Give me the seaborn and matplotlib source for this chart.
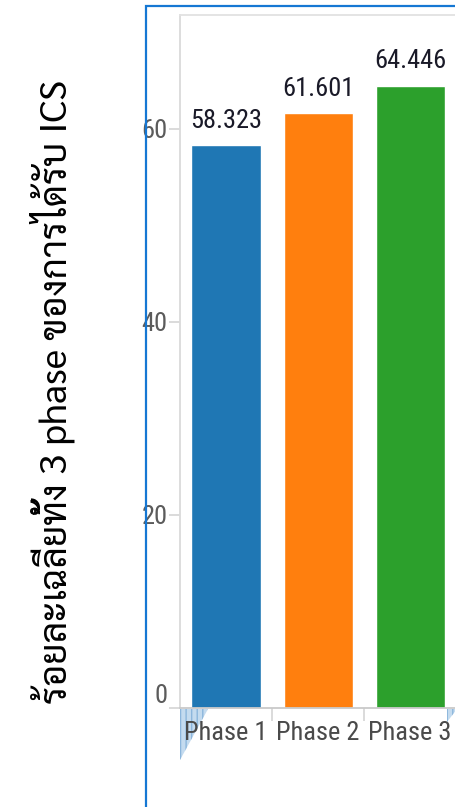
import matplotlib
matplotlib.use("Agg")
import matplotlib.pyplot as plt
from matplotlib import font_manager
from matplotlib.ft2font import FT2Font
from matplotlib.font_manager import FontProperties
from matplotlib.patches import Rectangle, Polygon
import seaborn as sns
import pandas as pd

# data
phases = ["Phase 1", "Phase 2", "Phase 3"]
ics_percent = [58.323, 61.601, 64.446]
bar_colors = ["#1f77b4", "#ff7f0e", "#2ca02c"]
y_ticks = [0, 20, 40, 60]
y_title = "ร้อยละเฉลี่ยทั้ง 3 phase ของการได้รับ ICS"


def find_thai():
    # prefer a Tahoma-like looped face, else anything with Thai glyphs
    names = {f.name for f in font_manager.fontManager.ttflist}
    for n in ["Sarabun", "Noto Sans Thai Looped", "Noto Sans Thai", "Anuphan", "Loma"]:
        if n in names:
            return n
    for f in font_manager.fontManager.ttflist:
        try:
            if FT2Font(f.fname).get_char_index(ord("ร")):
                return f.name
        except Exception:
            pass
    return "DejaVu Sans"


def find_narrow():
    # a condensed face for the ticks, if there is one
    fl = font_manager.fontManager.ttflist
    for key in ["LiberationSansNarrow-Regular", "RobotoCondensed-Regular",
                "DejaVuSansCondensed.", "OpenSans_Condensed-Regular",
                "Condensed-Regular", "Narrow-Regular", "Condensed", "Narrow"]:
        for f in fl:
            if key in f.fname and "Bold" not in f.fname and "Oblique" not in f.fname \
                    and "Italic" not in f.fname:
                return f.fname
    return None


narrow_path = find_narrow()
thai = find_thai()

sns.set_theme(style="white")
plt.rcParams["font.family"] = ["DejaVu Sans"]

if narrow_path:
    tick_fp = FontProperties(fname=narrow_path, size=19)
else:
    tick_fp = FontProperties(family="DejaVu Sans", size=15)

fig = plt.figure(figsize=(4.56, 8.07), dpi=100)
ax = fig.add_axes([180 / 456, 99 / 807, 276 / 456, 693 / 807])

df = pd.DataFrame({"phase": phases, "pct": ics_percent})
sns.barplot(data=df, x="phase", y="pct", hue="phase", palette=bar_colors,
            saturation=1, width=0.75, legend=False, ax=ax)

for c in ax.containers:
    ax.bar_label(c, fmt="%.3f", padding=9, fontproperties=tick_fp,
                 color="#1a1a28")

ax.set_xlim(-0.5, 2.5)
ax.set_ylim(0, 71.8)
ax.set_yticks(y_ticks)
ax.set_xlabel("")
ax.set_ylabel("")

ax.tick_params(axis="y", length=8, width=1.2, color="#d4d4d4",
               labelcolor="#5b5b5b", pad=1, left=True)
ax.tick_params(axis="x", which="major", length=0, labelcolor="#4a4a4a", pad=9)
ax.set_xticks([0.5, 1.5], minor=True)
ax.tick_params(axis="x", which="minor", length=9, width=1.2, color="#d4d4d4",
               bottom=True)
for lab in ax.get_xticklabels() + ax.get_yticklabels():
    lab.set_fontproperties(tick_fp)
ax.get_yticklabels()[0].set_va("bottom")

ax.spines["right"].set_visible(False)
ax.spines["left"].set_color("#dadada")
ax.spines["top"].set_color("#e2e2e2")
ax.spines["bottom"].set_color("#c9c9c9")
for s in ["left", "top", "bottom"]:
    ax.spines[s].set_linewidth(1.3)

# hatched corner markers under the axis (drawn behind the labels)
for x0, w, h in [(180, 28, 51), (447, 10, 13)]:
    tri = Polygon([(x0 / 456, 98 / 807), ((x0 + w) / 456, 98 / 807),
                   (x0 / 456, (98 - h) / 807)],
                  closed=True, transform=fig.transFigure, facecolor="#c4dbef",
                  edgecolor="#8cb6dc", hatch="|||", linewidth=0, zorder=-1)
    fig.add_artist(tri)

# blue frame around the chart
fig.add_artist(Rectangle((146 / 456, -0.1), 1, 0.1 + 801 / 807,
                         transform=fig.transFigure, fill=False,
                         edgecolor="#1577d3", linewidth=1.6))

fig.text(52 / 456, 0.514, y_title, rotation=90, ha="center", va="center",
         fontsize=27, family=[thai, "DejaVu Sans"], color="black")

fig.savefig("out.png", dpi=100)
